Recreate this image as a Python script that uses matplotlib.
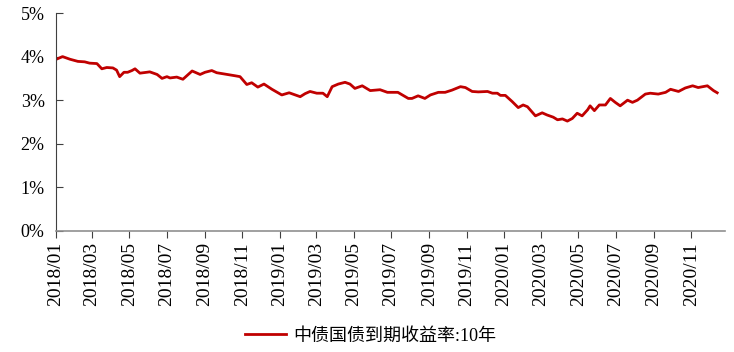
import numpy as np
import pandas as pd
import matplotlib
matplotlib.use("Agg")
import matplotlib.pyplot as plt
import matplotlib.dates as mdates
from matplotlib.ticker import FuncFormatter

# 中债国债到期收益率:10年 (%)
dates = [
    "2018-01-02", "2018-01-12", "2018-01-24", "2018-02-06", "2018-02-17", "2018-02-25",
    "2018-03-09", "2018-03-17", "2018-03-25", "2018-04-04", "2018-04-10", "2018-04-15",
    "2018-04-22", "2018-04-28", "2018-05-05", "2018-05-10", "2018-05-18", "2018-05-29",
    "2018-06-03", "2018-06-15", "2018-06-23", "2018-07-01", "2018-07-06", "2018-07-17",
    "2018-07-27", "2018-08-11", "2018-08-24", "2018-09-01", "2018-09-12", "2018-09-20",
    "2018-10-03", "2018-10-20", "2018-10-28", "2018-11-08", "2018-11-16", "2018-11-26",
    "2018-12-06", "2018-12-19", "2019-01-04", "2019-01-16", "2019-01-26", "2019-02-03",
    "2019-02-11", "2019-02-19", "2019-03-02", "2019-03-12", "2019-03-19", "2019-03-27",
    "2019-04-06", "2019-04-17", "2019-04-25", "2019-05-03", "2019-05-15", "2019-05-28",
    "2019-06-13", "2019-06-25", "2019-07-12", "2019-07-29", "2019-08-04", "2019-08-14",
    "2019-08-25", "2019-09-03", "2019-09-16", "2019-09-27", "2019-10-08", "2019-10-22",
    "2019-10-30", "2019-11-10", "2019-11-20", "2019-12-05", "2019-12-13", "2019-12-21",
    "2019-12-26", "2020-01-03", "2020-01-14", "2020-01-24", "2020-02-01", "2020-02-08",
    "2020-02-21", "2020-03-03", "2020-03-11", "2020-03-21", "2020-03-28", "2020-04-05",
    "2020-04-13", "2020-04-21", "2020-04-29", "2020-05-07", "2020-05-16", "2020-05-20",
    "2020-05-27", "2020-06-04", "2020-06-14", "2020-06-22", "2020-06-30", "2020-07-08",
    "2020-07-20", "2020-07-28", "2020-08-05", "2020-08-18", "2020-08-26", "2020-09-08",
    "2020-09-20", "2020-09-28", "2020-10-11", "2020-10-22", "2020-11-03", "2020-11-12",
    "2020-11-27", "2020-12-07", "2020-12-13",
]
yields = [
    3.94, 4.00, 3.94, 3.89, 3.88, 3.85,
    3.84, 3.72, 3.75, 3.74, 3.69, 3.54,
    3.64, 3.64, 3.68, 3.72, 3.62, 3.64,
    3.65, 3.59, 3.50, 3.54, 3.51, 3.53,
    3.48, 3.67, 3.59, 3.64, 3.68, 3.63,
    3.60, 3.56, 3.54, 3.36, 3.40, 3.30,
    3.37, 3.25, 3.12, 3.17, 3.12, 3.08,
    3.15, 3.20, 3.16, 3.16, 3.08, 3.31,
    3.37, 3.41, 3.37, 3.27, 3.33, 3.22,
    3.24, 3.18, 3.18, 3.04, 3.04, 3.10,
    3.04, 3.12, 3.18, 3.18, 3.23, 3.31,
    3.29, 3.20, 3.19, 3.20, 3.16, 3.16,
    3.11, 3.11, 2.97, 2.83, 2.89, 2.85,
    2.64, 2.71, 2.66, 2.61, 2.55, 2.57,
    2.52, 2.58, 2.70, 2.64, 2.78, 2.87,
    2.76, 2.89, 2.89, 3.04, 2.95, 2.87,
    3.00, 2.95, 3.00, 3.14, 3.16, 3.14,
    3.18, 3.25, 3.20, 3.28, 3.33, 3.29,
    3.33, 3.22, 3.17,
]
series_name = "中债国债到期收益率:10年"

x = pd.to_datetime(dates)
y = np.array(yields)

plt.rcParams['font.family'] = ['Liberation Serif', 'Noto Sans CJK SC']

fig = plt.figure(figsize=(7.34, 3.52), dpi=100)
ax = fig.add_axes([0.076, 0.344, 0.912, 0.619])
ax.plot(x, y, color='#C00000', linewidth=2.0, label=series_name)

ax.set_ylim(0, 5)
ax.set_yticks(np.arange(0, 6, 1))
ax.yaxis.set_major_formatter(FuncFormatter(lambda v, p: '%d%%' % v))
ax.set_xlim(pd.Timestamp("2018-01-01"), pd.Timestamp("2020-12-26"))
ax.xaxis.set_major_locator(mdates.MonthLocator(bymonth=[1, 3, 5, 7, 9, 11]))
ax.xaxis.set_major_formatter(mdates.DateFormatter('%Y/%m'))

for s in ['top', 'right']:
    ax.spines[s].set_visible(False)
ax.spines['left'].set_color('#404040')
ax.spines['bottom'].set_color('#909090')
ax.spines['bottom'].set_linewidth(1.2)
ax.tick_params(axis='y', direction='in', length=5, color='#404040', labelsize=13, pad=8)
ax.tick_params(axis='x', direction='out', length=5, color='#404040', labelsize=14,
               rotation=90, pad=3)

fig.legend(loc='center', bbox_to_anchor=(0.505, 0.045), frameon=False,
           fontsize=13, handlelength=2.3, handletextpad=0.4)

fig.savefig('out.png', dpi=100)
